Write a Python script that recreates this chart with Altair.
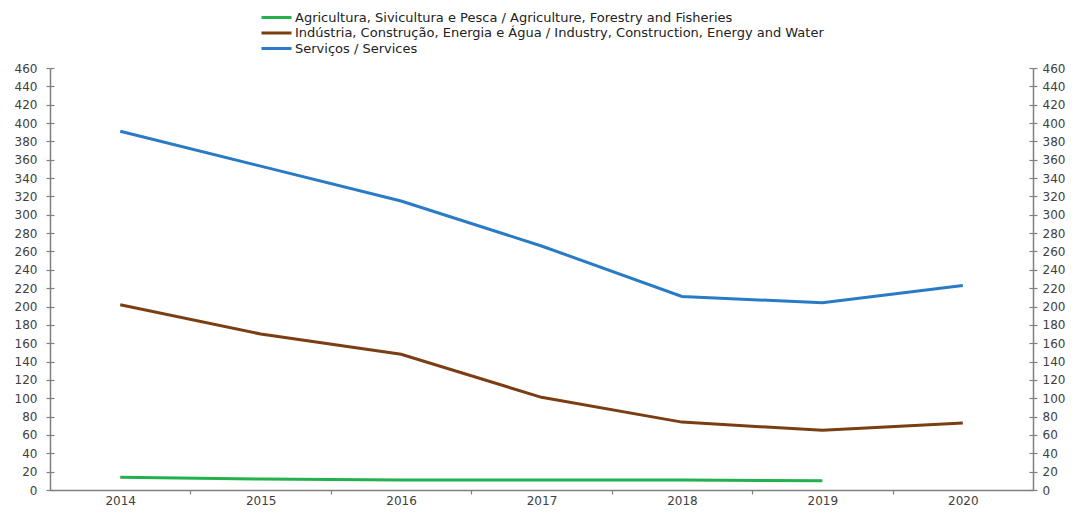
import altair as alt
import pandas as pd

years = [2014, 2015, 2016, 2017, 2018, 2019, 2020]
series_names = [
    "Agricultura, Sivicultura e Pesca / Agriculture, Forestry and Fisheries",
    "Indústria, Construção, Energia e Água / Industry, Construction, Energy and Water",
    "Serviços / Services",
]
agriculture = [14, 12, 11, 11, 11, 10, None]
industry = [202, 170, 148, 101, 74, 65, 73]
services = [391, 353, 315, 266, 211, 204, 223]
colors = ["#22B14C", "#7A3E12", "#2A7BC6"]
y_ticks = list(range(0, 461, 20))
x_boundaries = [2014.5, 2015.5, 2016.5, 2017.5, 2018.5, 2019.5]

rows = []
for name, vals in zip(series_names, [agriculture, industry, services]):
    for yr, v in zip(years, vals):
        if v is not None:
            rows.append({"Ano": yr, "Valor": v, "Série": name})
df = pd.DataFrame(rows)

FONT = "DejaVu Sans"
AX = "#808080"
LAB = "#404040"

xscale = alt.Scale(domain=[2013.5, 2020.5], nice=False, zero=False)
yscale = alt.Scale(domain=[0, 460], nice=False)

common_axis = dict(labelFont=FONT, labelFontSize=12, labelColor=LAB,
                   domainColor=AX, tickColor=AX, grid=False, title=None,
                   domainWidth=1.5, tickWidth=1.2)

lines = alt.Chart(df).mark_line(strokeWidth=3).encode(
    x=alt.X("Ano:Q", scale=xscale,
            axis=alt.Axis(values=years, format="d", ticks=False, labelPadding=5,
                          orient="bottom", **common_axis)),
    y=alt.Y("Valor:Q", scale=yscale,
            axis=alt.Axis(values=y_ticks, orient="left", tickSize=4, labelPadding=9,
                          **common_axis)),
    color=alt.Color("Série:N", sort=series_names,
                    scale=alt.Scale(domain=series_names, range=colors),
                    legend=alt.Legend(orient="none", legendX=220, legendY=-57,
                                      title=None, symbolType="M-3,0H3",
                                      symbolSize=100, symbolStrokeWidth=3,
                                      labelOffset=12, rowPadding=1.5,
                                      labelFont=FONT, labelFontSize=13,
                                      labelColor="#222222", labelLimit=800)),
)

ticks_left_inner = alt.Chart(df).mark_point(opacity=0).encode(
    x=alt.X("Ano:Q", scale=xscale,
            axis=alt.Axis(values=x_boundaries, labels=False, domain=False,
                          tickSize=4, orient="bottom", **common_axis)),
    y=alt.Y("Valor:Q", scale=yscale,
            axis=alt.Axis(values=y_ticks, orient="left", offset=-4, tickSize=4,
                          labels=False, domain=False, **common_axis)),
)

right_outer = alt.Chart(df).mark_point(opacity=0).encode(
    x=alt.X("Ano:Q", scale=xscale, axis=None),
    y=alt.Y("Valor:Q", scale=yscale,
            axis=alt.Axis(values=y_ticks, orient="right", tickSize=4, labelPadding=5,
                          **common_axis)),
)

right_inner = alt.Chart(df).mark_point(opacity=0).encode(
    x=alt.X("Ano:Q", scale=xscale, axis=None),
    y=alt.Y("Valor:Q", scale=yscale,
            axis=alt.Axis(values=y_ticks, orient="right", offset=-4, tickSize=4,
                          labels=False, domain=False, **common_axis)),
)

chart = alt.layer(lines, ticks_left_inner, right_outer, right_inner).resolve_axis(
    x="independent", y="independent"
).properties(
    width=983, height=422,
    autosize=alt.AutoSizeParams(type="none"),
    padding={"left": 42, "top": 60, "right": 34, "bottom": 17},
    background="white",
).configure_view(stroke=None)

chart.save("out.html", embed_options={"renderer": "svg", "actions": False})
